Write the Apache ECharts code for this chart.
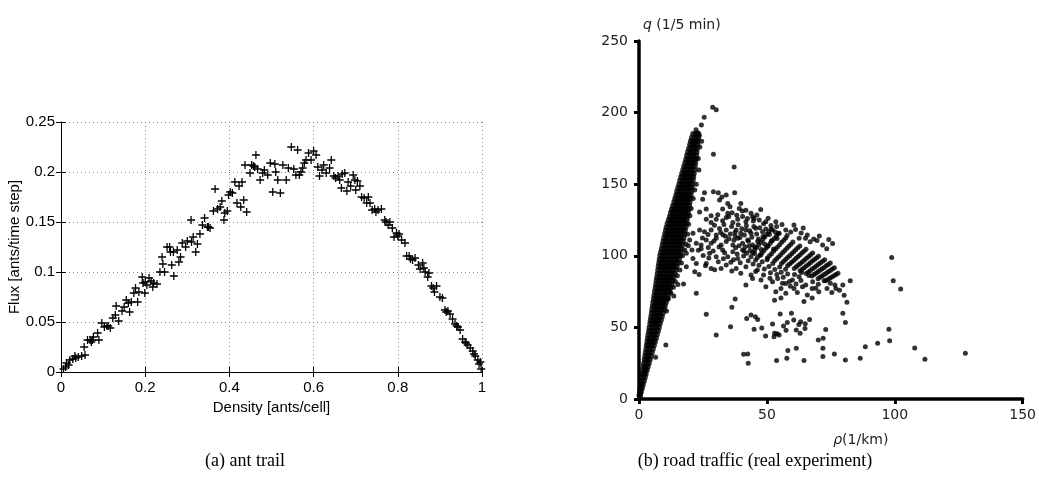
<!DOCTYPE html>
<html><head><meta charset="utf-8">
<script src="https://cdn.jsdelivr.net/npm/echarts/dist/echarts.min.js"></script>
<style>html,body{margin:0;padding:0;background:#fff}#c{width:1039px;height:495px}</style>
</head><body><div id="c"></div>
<script>
// (a) ant trail: [density, flux]
const antTrail = [
[0.006,0.003],[0.011,0.005],[0.018,0.007],[0.021,0.012],[0.028,0.013],[0.033,0.016],[0.041,0.015],[0.049,0.016],[0.057,0.017],[0.055,0.025],
[0.063,0.032],[0.069,0.032],[0.075,0.032],[0.077,0.035],[0.087,0.039],[0.09,0.032],[0.097,0.049],[0.103,0.045],[0.109,0.046],[0.117,0.044],
[0.123,0.054],[0.129,0.057],[0.137,0.051],[0.131,0.066],[0.145,0.061],[0.15,0.065],[0.155,0.072],[0.163,0.06],[0.167,0.07],[0.173,0.079],
[0.177,0.084],[0.182,0.07],[0.185,0.08],[0.193,0.095],[0.195,0.089],[0.199,0.079],[0.204,0.087],[0.209,0.094],[0.214,0.091],[0.218,0.085],
[0.22,0.089],[0.228,0.088],[0.235,0.1],[0.24,0.115],[0.246,0.1],[0.242,0.108],[0.252,0.125],[0.258,0.125],[0.263,0.107],[0.267,0.12],
[0.268,0.096],[0.276,0.122],[0.28,0.11],[0.284,0.115],[0.288,0.129],[0.296,0.125],[0.3,0.131],[0.309,0.152],[0.314,0.135],[0.32,0.12],
[0.324,0.128],[0.33,0.138],[0.336,0.147],[0.341,0.154],[0.348,0.145],[0.354,0.144],[0.362,0.161],[0.366,0.183],[0.372,0.163],[0.378,0.165],
[0.382,0.171],[0.387,0.152],[0.389,0.159],[0.395,0.161],[0.402,0.18],[0.407,0.179],[0.413,0.19],[0.418,0.169],[0.423,0.186],[0.427,0.165],
[0.434,0.172],[0.437,0.207],[0.441,0.16],[0.449,0.199],[0.453,0.207],[0.457,0.206],[0.463,0.217],[0.467,0.203],[0.473,0.192],[0.479,0.199],
[0.483,0.202],[0.491,0.197],[0.497,0.209],[0.503,0.18],[0.508,0.208],[0.515,0.192],[0.521,0.179],[0.527,0.207],[0.535,0.192],[0.54,0.204],
[0.547,0.225],[0.553,0.203],[0.558,0.197],[0.562,0.222],[0.566,0.197],[0.574,0.204],[0.578,0.209],[0.582,0.212],[0.588,0.219],[0.594,0.212],
[0.6,0.221],[0.606,0.217],[0.614,0.196],[0.62,0.202],[0.624,0.207],[0.63,0.199],[0.638,0.204],[0.642,0.212],[0.648,0.196],[0.652,0.194],
[0.658,0.196],[0.662,0.192],[0.666,0.184],[0.674,0.199],[0.679,0.181],[0.682,0.19],[0.688,0.186],[0.694,0.197],[0.698,0.192],[0.704,0.191],
[0.71,0.186],[0.714,0.175],[0.72,0.174],[0.726,0.169],[0.73,0.175],[0.734,0.169],[0.739,0.162],[0.745,0.163],[0.753,0.162],[0.761,0.163],
[0.769,0.152],[0.777,0.147],[0.781,0.15],[0.787,0.144],[0.791,0.135],[0.797,0.139],[0.803,0.138],[0.809,0.132],[0.817,0.129],[0.821,0.116],
[0.827,0.116],[0.835,0.112],[0.841,0.114],[0.849,0.107],[0.853,0.103],[0.859,0.109],[0.865,0.1],[0.871,0.095],[0.874,0.099],[0.88,0.086],
[0.887,0.08],[0.892,0.086],[0.9,0.075],[0.906,0.074],[0.912,0.062],[0.919,0.061],[0.924,0.058],[0.93,0.053],[0.936,0.048],[0.943,0.045],
[0.948,0.042],[0.954,0.033],[0.96,0.03],[0.966,0.027],[0.972,0.024],[0.978,0.021],[0.984,0.016],[0.99,0.012],[0.996,0.01],[0.998,0.003],
[0.013,0.009],[0.035,0.014],[0.072,0.03],[0.112,0.046],[0.16,0.069],[0.2,0.09],[0.26,0.12],[0.31,0.13],[0.35,0.145],[0.398,0.177],
[0.43,0.19],[0.46,0.205],[0.51,0.2],[0.57,0.2],[0.61,0.205],[0.668,0.198],[0.7,0.182],[0.748,0.16],[0.772,0.15],[0.8,0.136],
[0.83,0.113],[0.862,0.104],[0.884,0.084],[0.915,0.06],[0.94,0.046],[0.962,0.029],[0.981,0.018],[0.993,0.008]
];

// (b) road traffic: free-flow branch, rows of [q, [rho values]]
const freeFlowRows = [
[2.5,[0.2,0.4]],[5,[0.4,0.75]],[7.5,[0.6,1.1]],[10,[0.8,1.5]],[12.5,[1.0,1.9]],[15,[1.2,2.25]],[17.5,[1.4,2.0,2.6]],[20,[1.6,2.3,3.0]],
[22.5,[1.8,2.6,3.4]],[25,[2.0,2.9,3.8]],[27.5,[2.25,3.2,4.2]],[30,[2.45,3.5,4.6]],[32.5,[2.65,3.8,5.0]],[35,[2.9,4.1,5.4]],
[37.5,[3.1,4.0,4.9,5.8]],[40,[3.3,4.3,5.2,6.2]],[42.5,[3.5,4.5,5.6,6.6]],[45,[3.7,4.8,5.9,7.0]],[47.5,[3.95,5.1,6.2,7.4]],[50,[4.15,5.35,6.55,7.75]],
[52.5,[4.4,5.3,6.2,7.1,8.1]],[55,[4.6,5.6,6.5,7.5,8.5]],[57.5,[4.8,5.8,6.8,7.9,8.9]],[60,[5.0,6.1,7.2,8.2,9.3]],[62.5,[5.2,6.3,7.4,8.6,9.7]],
[65,[5.4,6.3,7.3,8.2,9.2,10.1]],[67.5,[5.6,6.6,7.6,8.5,9.5,10.5]],[70,[5.85,6.9,7.9,8.9,9.9,10.95]],[72.5,[6.05,7.1,8.2,9.2,10.3,11.35]],[75,[6.25,7.4,8.5,9.6,10.7,11.8]],
[77.5,[6.5,7.5,8.5,9.4,10.3,11.3,12.2]],[80,[6.7,7.7,8.7,9.7,10.6,11.6,12.6]],[82.5,[6.9,7.9,8.9,9.9,10.9,11.9,13.0]],[85,[7.1,8.2,9.2,10.3,11.3,12.4,13.45]],
[87.5,[7.3,8.4,9.5,10.6,11.7,12.8,13.9]],[90,[7.5,8.6,9.7,10.8,11.9,13.1,14.3]],[92.5,[7.7,8.7,9.7,10.7,11.7,12.7,13.7,14.7]],[95,[7.9,8.9,9.9,11.0,12.0,13.1,14.1,15.15]],
[97.5,[8.1,9.2,10.2,11.3,12.4,13.4,14.5,15.6]],[100,[8.3,9.4,10.5,11.6,12.7,13.8,14.9,16.0]],[102.5,[8.6,9.7,10.8,11.9,13.0,14.1,15.2,16.3]],
[105,[8.95,10.0,11.1,12.2,13.3,14.4,15.5,16.55]],[107.5,[9.25,10.3,11.4,12.5,13.6,14.6,15.7,16.8]],[110,[9.55,10.6,11.7,12.8,13.9,14.9,16.0,17.1]],
[112.5,[9.85,10.9,12.0,13.1,14.2,15.2,16.3,17.4]],[115,[10.2,11.2,12.3,13.4,14.5,15.5,16.6,17.65]],[117.5,[10.5,11.6,12.6,13.7,14.8,15.8,16.9,17.9]],
[120,[10.8,11.9,12.9,14.0,15.0,16.1,17.1,18.2]],[122.5,[11.2,12.2,13.2,14.2,15.3,16.3,17.4,18.4]],[125,[11.65,12.7,13.7,14.7,15.7,16.6,17.6,18.65]],
[127.5,[12.1,13.1,14.1,15.0,16.0,17.0,17.9,18.85]],[130,[12.5,13.5,14.4,15.4,16.3,17.3,18.2,19.1]],[132.5,[12.9,13.8,14.8,15.7,16.6,17.5,18.4,19.3]],
[135,[13.35,14.4,15.4,16.5,17.5,18.5,19.55]],[137.5,[13.8,14.8,15.8,16.8,17.8,18.8,19.8]],[140,[14.2,15.2,16.2,17.1,18.1,19.0,20.0]],
[142.5,[14.6,15.5,16.5,17.4,18.3,19.3,20.2]],[145,[14.95,16.0,17.1,18.2,19.3,20.4]],[147.5,[15.35,16.4,17.5,18.5,19.6,20.6]],[150,[15.75,16.8,17.8,18.8,19.8,20.8]],
[152.5,[16.1,17.1,18.1,19.1,20.0,21.0]],[155,[16.5,17.4,18.4,19.3,20.3,21.2]],[157.5,[16.9,18.0,19.1,20.3,21.4]],[160,[17.3,18.4,19.4,20.5,21.6]],
[162.5,[17.7,18.7,19.8,20.8,21.8]],[165,[18.1,19.1,20.0,21.0,21.95]],[167.5,[18.5,19.4,20.3,21.2,22.1]],[170,[18.8,20.0,21.1,22.3]],
[172.5,[19.2,20.3,21.4,22.5]],[175,[19.6,20.6,21.6,22.6]],[177.5,[20.0,20.9,21.9,22.8]],[180,[20.3,21.2,22.1,23.0]],[182.5,[20.7,21.9,23.1]],[185,[21.2,22.2,23.2]]
];
// scattered dots along the edges of the free-flow branch: [rho, q]
const freeFlowEdge = [
[24.5,180],[23.8,176],[23.2,168],[23.4,160],[22.4,150],[21.8,146],[21.2,140],[20.4,133],[19.9,128],[19.4,122],[19.0,115],[18.4,108],[17.9,104],[19.3,107],
[17.0,100],[16.6,95],[16.0,90],[15.0,86],[14.2,82],[13.5,78],[12.5,74],[11.5,70],[22.3,188],[23.6,184]
];
const congested = [
[25.6,144],[29.1,144.8],[31,144],[32.4,141],[34.1,142.5],[37.4,144],[24.9,139.5],[31.5,139],[34.7,136.5],[35.6,134.3],[39.8,136.5],
[23.7,130.5],[26.3,132.6],[28.2,127.9],[32.7,132.6],[34.7,129.7],[39.2,133],[41.8,131.8],[43.8,129.7],[47.6,132.3],[45,126],
[26.3,125.6],[28.2,123.3],[30.2,125.6],[32.7,124.4],[34.1,126.8],[36.7,123.3],[38.6,125.6],[40.5,127.5],[41.8,123.8],[44.4,127.2],[47,125],[49.6,123.8],[53.5,123.8],
[21.1,115.7],[23.7,118],[25.6,116.8],[28.2,118],[30.2,114.5],[31.5,119],[34.1,118],[38,118],[39.8,115.7],[41.8,118],[43.8,115.7],[45.6,119.2],[48.3,116.8],[52.2,118],[54.8,115.7],[57.4,118],[60.6,121.5],
[19.8,111],[22.4,108.7],[24.3,107.5],[26.3,111],[28.2,108.7],[30.2,112.2],[32.1,107.5],[34.1,109.9],[36.7,107.5],[38.6,112.2],[40.5,108.7],[42.5,111],[44.4,107.5],[46.4,109.9],[62.6,112.2],[65.8,114.5],[68.3,111.8],[74.2,111.4],
[18.5,101.7],[21.1,98.2],[24.3,105],[27.6,101.7],[30.2,99.4],[32.7,104],[34.7,99.4],[36.7,102.9],[38.6,98.2],[40.5,104],[42.1,101.7],[43.8,99.4],[45.6,97],
[18.5,92.4],[22.4,94.7],[26.3,94.7],[28.2,91.2],[32.1,91.2],[34.1,93.6],[38,91.2],[39.8,87.8],[41.8,92.4],[43.8,86.6],[45.6,89],
[41.8,79.6],[44.4,84.2],[47.7,83.1],[49.6,78.4],[52.2,81.9],[54.2,84.2],[57.4,80.7],[60,83.1],[62.6,85.4],
[53.5,74.9],[55.5,77.2],[57.4,73.8],[60.6,77.2],[63.9,78.4],[65.8,72.6],[67.7,77.2],[70.3,74.9],[73.5,77.2],[77,77.2],[78.4,76],[53,69],[55.5,70.5],[64.5,68],[67.7,70.5],
[36.2,120.5],[37.5,116.2],[38.8,121.7],[39.5,112.8],[40.2,118.9],[41.2,114.6],[42.0,121],[42.8,110.2],[43.3,117.5],[44.1,113],[44.9,120.4],[45.3,106.1],[46.0,115.3],
[46.7,111.7],[47.2,119.6],[47.8,104.4],[48.5,113.5],[49.1,108.3],[49.6,118.8],[50.3,106.7],[51.0,114.9],[51.8,110.5],[52.6,104.8],[53.3,116.6],[54.0,112.1],
[36.9,97.3],[37.8,105.6],[38.4,101.2],[39.6,95.1],[40.9,99.8],[41.5,106.4],[42.7,96.5],[43.4,103.7],[44.6,94.2],[45.2,101.6],[46.3,98.9],[46.9,93.4],[47.5,100.5],
[48.2,95.9],[49.0,90.8],[50.1,97.2],[50.8,92.6],[51.4,88.2],[52.3,94.7],[53.1,90.4],[53.9,86.9],[55.0,92.1],[55.6,88.5],[56.4,85.1],[57.3,90.6],[58.1,87.3],
[29.5,121.4],[30.8,128.6],[31.9,116.3],[33.2,121.9],[33.8,113.6],[35.1,127.4],[35.7,115.2],[36.4,130.1],[37.1,110.8],[38.2,128.3],[39.1,107.1],[40.4,131.2],
[41.1,103.3],[42.4,126.1],[43.1,106.9],[44.7,124.3],[46.1,128.5],[48.7,122.4],[50.5,126.3],[51.6,121.2],[53.8,120.4],[55.9,121.8],[57.9,114.2],[59.3,116.7],
[61.2,118.3],[63.4,115.9],[65.1,112.3],[66.9,109.8],[69.6,110.6],[71.8,107.5],[73.4,104.9],[75.7,108.6],[70.5,113.8],[64.2,119.5],
[27.1,105.8],[29.0,103.4],[31.3,106.2],[33.5,102.1],[35.9,95.5],[31.0,95.8],[29.6,90.2],[36.3,89.4],[27.3,98.5],[25.1,100.2],[23.2,103.9],[20.7,104.1],
[24.8,112.4],[27.0,114.9],[29.3,110.3],[32.8,114.7],[35.2,111.9],[37.6,113.8],
[58.8,82.1],[61.4,80.3],[63.3,82.7],[65.2,79.6],[67.9,81.8],[70.1,80.2],[72.4,82.5],[74.8,80.9],[76.6,79.6],[69.1,77.3],[75.4,74.4],[61.9,74.3],
[59.2,78.7],[56.1,80.9],[51.2,84.3],[48.7,86.6],[46.3,90.1],[60.8,86.9],[63.6,88.4],[66.4,86.3]
];
const stripes = [
[44.4,102.1],[45.2,104.0],[46.0,105.8],[46.8,107.6],[47.6,109.5],[48.4,111.3],[49.2,113.2],[50.0,115.0],[50.8,116.8],[51.6,118.7],
[47.3,100.3],[48.1,102.0],[48.9,103.7],[49.7,105.4],[50.5,107.1],[51.3,108.8],[52.1,110.5],[52.9,112.1],[53.7,113.8],[54.5,115.5],
[50.2,98.4],[51.0,100.0],[51.8,101.5],[52.6,103.1],[53.4,104.7],[54.2,106.2],[55.0,107.8],[55.8,109.4],[56.6,110.9],[57.4,112.5],
[53.0,96.5],[53.8,97.9],[54.6,99.4],[55.4,100.8],[56.2,102.3],[57.0,103.7],[57.8,105.2],[58.6,106.7],[59.4,108.1],[60.2,109.6],
[55.7,94.7],[56.5,96.1],[57.3,97.4],[58.1,98.8],[58.9,100.1],[59.7,101.5],[60.5,102.9],[61.3,104.2],[62.1,105.6],[62.9,106.9],
[58.1,93.0],[58.9,94.2],[59.7,95.5],[60.5,96.8],[61.3,98.1],[62.1,99.4],[62.9,100.6],[63.7,101.9],[64.5,103.2],[65.3,104.5],
[60.7,91.1],[61.5,92.3],[62.3,93.5],[63.1,94.7],[63.9,95.9],[64.7,97.1],[65.5,98.3],[66.3,99.5],[67.1,100.7],[67.9,101.9],
[63.0,89.5],[63.8,90.6],[64.6,91.7],[65.4,92.9],[66.2,94.0],[67.0,95.1],[67.8,96.3],[68.6,97.4],[69.4,98.5],[70.2,99.7],
[65.4,87.6],[66.2,88.7],[67.0,89.8],[67.8,90.9],[68.6,91.9],[69.4,93.0],[70.2,94.1],[71.0,95.1],[71.8,96.2],[72.6,97.3],
[67.6,85.9],[68.4,86.9],[69.2,87.9],[70.0,88.9],[70.8,89.9],[71.6,90.9],[72.4,91.9],[73.2,93.0],[74.0,94.0],[74.8,95.0],
[70.0,84.0],[70.8,85.0],[71.6,85.9],[72.4,86.9],[73.2,87.8],[74.0,88.8],[74.8,89.8],[75.6,90.7],[76.4,91.7],
[73.0,82.5],[73.8,83.4],[74.6,84.3],[75.4,85.2],[76.2,86.1],[77.0,87.0],[77.8,87.9]
];
const outliers = [
[28.8,203.7],[30.2,202],[25.5,196.7],[24.4,191.3],[23,186],[22.5,181],[29.1,171],[37.2,162],[98.8,98.9],[99.4,82.6],[102.3,76.8],
[82.6,82.6],[79.7,79.6],[81.3,67.5],[80.2,72.5],[79.7,59.8],[80.7,53.5],[97.7,48.7],[98,40.7],[93.3,38.9],[88.5,36.5],[86.5,28.4],
[80.7,27.2],[76.4,31.4],[107.8,35.6],[111.8,27.7],[127.6,31.9],[72,42.4],[70.1,41.2],[71.9,35.5],[71.9,29.6],[73,48.6],[64.5,26.8],
[57.8,28.4],[53.8,26.8],[58.2,33.8],[61.5,35.4],[42.7,24.9],[40.9,31.2],[42.5,31.4],[30.2,44.7],[35.8,50.5],[10.5,37.7],[6.5,29.1],
[26.3,59.1],[37.6,69.8],[36.3,64],[43.8,58.7],[45.5,57.5],[46.4,55.6],[45,48.7],[42.1,56.3],[52.2,52.4],[52.8,43.5],[54.8,44.7],
[55.2,59.4],[57.5,48],[59.6,59.8],[60.5,55.2],[61.5,48.2],[63.2,54],[64.9,49.3],[66.7,55.6],[62.5,52],[22.4,73.8],[13.6,71.9],
[17.4,80.3],[21.8,88.9],[10.8,61.5],[15.2,80],[53,46],[54,45.5],[48,49.5],[49.5,44],[56.5,51],[58,53.5],[63,46],[65,52.5],[33,98],[26,93],[23.5,87]
];

const antXTicks = {min:0, max:1, interval:0.2};
const antYTicks = {min:0, max:0.25, interval:0.05};
const roadXTicks = {min:0, max:150, interval:50};
const roadYTicks = {min:0, max:250, interval:50};

const freeFlow = freeFlowRows.flatMap(([q, rs]) => rs.map(r => [r, q]));

const plusPath = 'path://M0,4.2H10V5.8H0Z M4.2,0H5.8V10H4.2Z';
const sansL = '"Liberation Sans", Arial, sans-serif';
const sansR = '"DejaVu Sans", sans-serif';

const leftAxisBase = {
  gridIndex:0, axisLine:{show:true, lineStyle:{color:'#000', width:1}},
  axisTick:{show:true, inside:true, length:5, lineStyle:{color:'#000'}},
  axisLabel:{color:'#000', fontFamily:sansL, fontSize:15},
  splitLine:{show:false}
};
const dotted = {show:true, lineStyle:{color:'#888', width:1, type:[1,3]}};
const dotStyle = {symbol:'circle', symbolSize:5, itemStyle:{color:'#000'}, xAxisIndex:2, yAxisIndex:2, type:'scatter'};

const chart = echarts.init(document.getElementById('c'), null, {renderer:'canvas'});
chart.setOption({
  animation:false,
  backgroundColor:'#fff',
  grid:[
    {left:61, top:122, width:421, height:250},
    {left:639, top:41, width:386, height:358}
  ],
  xAxis:[
    Object.assign({}, leftAxisBase, {type:'value', ...antXTicks, position:'bottom',
      axisLabel:{color:'#000', fontFamily:sansL, fontSize:15, margin:8},
      splitLine:dotted,
      name:'Density [ants/cell]', nameLocation:'middle', nameGap:28,
      nameTextStyle:{color:'#000', fontFamily:sansL, fontSize:15}}),
    Object.assign({}, leftAxisBase, {type:'value', ...antXTicks, position:'top', axisLabel:{show:false}}),
    {gridIndex:1, type:'value', ...roadXTicks, position:'bottom',
      axisLine:{show:true, onZero:false, lineStyle:{color:'#000', width:3.5}},
      axisTick:{show:true, inside:false, length:5, lineStyle:{color:'#000', width:3}},
      axisLabel:{color:'#222', fontFamily:sansR, fontSize:14, margin:9},
      splitLine:{show:false},
      name:'{i|\u03c1}(1/km)', nameLocation:'middle', nameGap:34,
      nameTextStyle:{color:'#222', fontFamily:sansR, fontSize:14, padding:[0,0,0,60],
        rich:{i:{fontStyle:'italic', fontFamily:sansR, fontSize:14, color:'#222'}}}}
  ],
  yAxis:[
    Object.assign({}, leftAxisBase, {type:'value', ...antYTicks, position:'left',
      axisLabel:{color:'#000', fontFamily:sansL, fontSize:15, margin:6},
      splitLine:dotted,
      name:'Flux [ants/time step]', nameLocation:'middle', nameGap:34,
      nameTextStyle:{color:'#000', fontFamily:sansL, fontSize:15}}),
    Object.assign({}, leftAxisBase, {type:'value', ...antYTicks, position:'right', axisLabel:{show:false}}),
    {gridIndex:1, type:'value', ...roadYTicks, position:'left',
      axisLine:{show:true, onZero:false, lineStyle:{color:'#000', width:3.5}},
      axisTick:{show:true, inside:false, length:5, lineStyle:{color:'#000', width:3}},
      axisLabel:{color:'#222', fontFamily:sansR, fontSize:14, margin:11},
      splitLine:{show:false},
      name:'{i|q} (1/5 min)', nameLocation:'end', nameGap:9,
      nameTextStyle:{color:'#222', fontFamily:sansR, fontSize:14, align:'left', padding:[0,0,0,4],
        rich:{i:{fontStyle:'italic', fontFamily:sansR, fontSize:14, color:'#222'}}}}
  ],
  graphic:[
    {type:'text', x:245, y:452, style:{text:'(a) ant trail', font:'18px "Liberation Serif", serif', fill:'#000', textAlign:'center'}},
    {type:'text', x:755, y:452, style:{text:'(b) road traffic (real experiment)', font:'18px "Liberation Serif", serif', fill:'#000', textAlign:'center'}}
  ],
  series:[
    {type:'scatter', xAxisIndex:0, yAxisIndex:0, data:antTrail, symbol:plusPath, symbolSize:8,
      itemStyle:{color:'#000', opacity:1}},
    Object.assign({}, dotStyle, {data:freeFlow, symbolSize:6}),
    Object.assign({}, dotStyle, {data:freeFlowEdge}),
    Object.assign({}, dotStyle, {data:congested}),
    Object.assign({}, dotStyle, {data:stripes}),
    Object.assign({}, dotStyle, {data:outliers})
  ]
});
</script></body></html>
